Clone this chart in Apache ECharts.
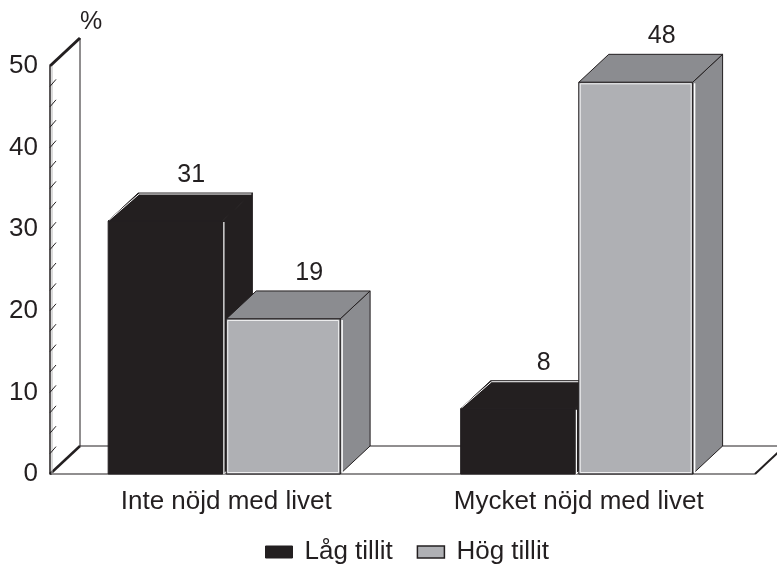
<!DOCTYPE html>
<html>
<head>
<meta charset="utf-8">
<script src="https://cdn.jsdelivr.net/npm/echarts@6/dist/echarts.min.js"></script>
<style>
  html, body { margin: 0; padding: 0; background: #fff; }
  #chart { width: 777px; height: 565px; }
</style>
</head>
<body>
<div id="chart"></div>
<script>
const categories = ["Inte nöjd med livet", "Mycket nöjd med livet"];
const seriesNames = ["Låg tillit", "Hög tillit"];
const lagValues = [31, 8];
const hogValues = [19, 48];
const yTicks = [0, 10, 20, 30, 40, 50];
const minorStep = 2.5;

const INK = "#231f20";
const GRAY_FRONT = "#afb0b4";
const GRAY_DARK = "#8b8c90";
const FONT = "Liberation Sans, Arial, Helvetica, sans-serif";

// 3D depth of the box, in pixels
const DX = 30, DY = 28;
// bar edges as share of the category band, measured from band centre
const OFFSETS = [[-0.335, -0.011], [0, 0.323]];

function barRenderer(idx) {
  return function (params, api) {
    const cat = api.value(0);
    const val = api.value(1);
    const base = api.coord([cat, 0]);
    const top = api.coord([cat, val]);
    const bw = api.size([1, 0])[0];
    const x0 = base[0] + bw * OFFSETS[idx][0];
    const x1 = base[0] + bw * OFFSETS[idx][1];
    const yb = base[1], yt = top[1];
    const dark = idx === 0;
    const front = dark ? INK : GRAY_FRONT;
    const shade = dark ? INK : GRAY_DARK;
    const stroke = { stroke: INK, lineWidth: 1 };

    const children = [
      {
        type: "polygon",
        shape: { points: [[x1, yt], [x1 + DX, yt - DY], [x1 + DX, yb - DY], [x1, yb]] },
        style: Object.assign({ fill: shade }, stroke)
      },
      {
        type: "polygon",
        shape: { points: [[x0, yt], [x0 + DX, yt - DY], [x1 + DX, yt - DY], [x1, yt]] },
        style: Object.assign({ fill: shade }, stroke)
      },
      {
        type: "rect",
        shape: { x: x0, y: yt, width: x1 - x0, height: yb - yt },
        style: Object.assign({ fill: front }, stroke)
      }
    ];

    if (dark) {
      children.push({
        type: "polyline",
        shape: { points: [[x0 + 1, yt - 1], [x0 + DX + 1, yt - DY + 1], [x1 + DX - 1, yt - DY + 1]] },
        style: { stroke: "#ffffff", lineWidth: 1, fill: null }
      });
      children.push({
        type: "line",
        shape: { x1: x1 + 1.5, y1: yt + 1, x2: x1 + 1.5, y2: yb },
        style: { stroke: "#ffffff", lineWidth: 1.2 }
      });
    } else {
      children.push({
        type: "rect",
        shape: { x: x0 + 1.5, y: yt + 1.5, width: x1 - x0 - 3, height: yb - yt - 3 },
        style: { fill: null, stroke: "#ffffff", lineWidth: 0.8 }
      });
      children.push({
        type: "line",
        shape: { x1: x1 + 2, y1: yt + 1, x2: x1 + 2, y2: yb - 1 },
        style: { stroke: "#ffffff", lineWidth: 1.5 }
      });
    }

    children.push({
      type: "text",
      style: {
        text: String(val),
        x: (x0 + x1) / 2 + 26,
        y: yt - DY - 18,
        align: "center",
        verticalAlign: "middle",
        fill: INK,
        font: "25px " + FONT
      }
    });

    return { type: "group", children: children };
  };
}

// left wall and floor of the 3D box
function frameRenderer(params, api) {
  const cs = params.coordSys;
  const left = cs.x, right = cs.x + cs.width;
  const y0 = api.coord([0, yTicks[0]])[1];
  const yMax = api.coord([0, yTicks[yTicks.length - 1]])[1];
  const children = [
    { type: "line", shape: { x1: left + DX, y1: yMax - DY, x2: left + DX, y2: y0 - DY }, style: { stroke: INK, lineWidth: 1 } },
    { type: "line", shape: { x1: left + DX, y1: y0 - DY, x2: right + DX, y2: y0 - DY }, style: { stroke: INK, lineWidth: 1 } },
    { type: "line", shape: { x1: left, y1: y0, x2: right, y2: y0 }, style: { stroke: INK, lineWidth: 1.2 } },
    { type: "line", shape: { x1: right, y1: y0, x2: right + DX, y2: y0 - DY }, style: { stroke: INK, lineWidth: 2 } },
    { type: "line", shape: { x1: left, y1: y0, x2: left + DX, y2: y0 - DY }, style: { stroke: INK, lineWidth: 2.5 } },
    { type: "line", shape: { x1: left, y1: yMax, x2: left + DX, y2: yMax - DY }, style: { stroke: INK, lineWidth: 3 } },
    { type: "line", shape: { x1: left + 2, y1: yMax, x2: left + 2, y2: y0 }, style: { stroke: "#b8b8b8", lineWidth: 1 } }
  ];
  const maxV = yTicks[yTicks.length - 1];
  for (let v = minorStep; v < maxV; v += minorStep) {
    const y = api.coord([0, v])[1];
    children.push({
      type: "line",
      shape: { x1: left, y1: y, x2: left + 6, y2: y - 7 },
      style: { stroke: INK, lineWidth: 1 }
    });
  }
  return { type: "group", children: children };
}

const chart = echarts.init(document.getElementById("chart"));
chart.setOption({
  backgroundColor: "#ffffff",
  animation: false,
  textStyle: { fontFamily: FONT, color: INK },
  grid: { left: 50, right: 22, top: 66, bottom: 91 },
  legend: {
    data: [
      { name: seriesNames[0], itemStyle: { color: INK, borderColor: INK, borderWidth: 1 } },
      { name: seriesNames[1], itemStyle: { color: GRAY_FRONT, borderColor: INK, borderWidth: 1.5 } }
    ],
    left: 265,
    top: 539,
    padding: 0,
    icon: "rect",
    itemWidth: 27,
    itemHeight: 12,
    itemGap: 24,
    textStyle: { fontSize: 26, color: INK, fontFamily: FONT, padding: [0, 0, 0, 7] }
  },
  graphic: [
    { type: "text", left: 80, top: 10, style: { text: "%", font: "25px " + FONT, fill: INK } }
  ],
  xAxis: {
    type: "category",
    data: categories,
    axisLine: { show: false },
    axisTick: { show: false },
    axisLabel: { fontSize: 26, color: INK, margin: 15, fontFamily: FONT }
  },
  yAxis: {
    type: "value",
    min: yTicks[0],
    max: yTicks[yTicks.length - 1],
    interval: yTicks[1] - yTicks[0],
    axisLine: { show: true, lineStyle: { color: INK, width: 1.5 } },
    axisTick: { show: false },
    splitLine: { show: false },
    axisLabel: { fontSize: 26, color: INK, margin: 12, fontFamily: FONT }
  },
  series: [
    {
      type: "custom",
      name: "frame",
      renderItem: frameRenderer,
      data: [[0, 0]],
      silent: true,
      z: 1
    },
    {
      type: "custom",
      name: seriesNames[0],
      itemStyle: { color: INK },
      renderItem: barRenderer(0),
      data: lagValues.map((v, i) => [i, v]),
      z: 2
    },
    {
      type: "custom",
      name: seriesNames[1],
      itemStyle: { color: GRAY_FRONT },
      renderItem: barRenderer(1),
      data: hogValues.map((v, i) => [i, v]),
      z: 3
    }
  ]
});
</script>
</body>
</html>
